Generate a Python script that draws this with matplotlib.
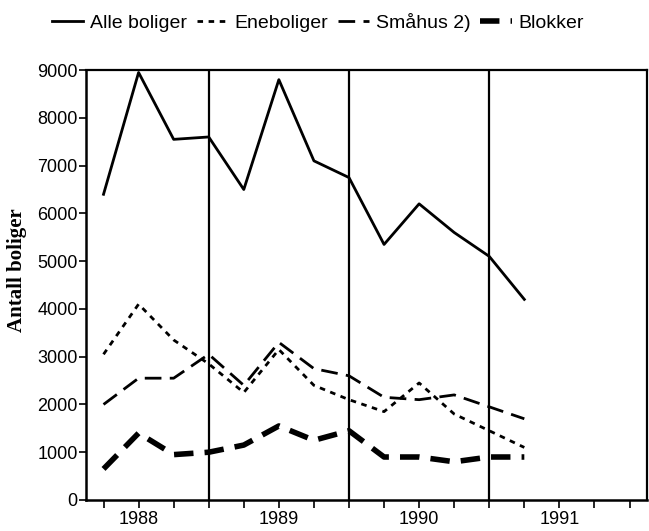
import matplotlib
matplotlib.use("Agg")
import matplotlib.pyplot as plt

# kvartalsdata 1988 - 1991
quarters = list(range(13))
alle = [6400, 8950, 7550, 7600, 6500, 8800, 7100, 6750, 5350, 6200, 5600, 5100, 4200]
enebolig = [3050, 4100, 3350, 2850, 2250, 3150, 2400, 2100, 1850, 2450, 1800, 1450, 1100]
smahus = [2000, 2550, 2550, 3050, 2400, 3300, 2750, 2600, 2150, 2100, 2200, 1950, 1700]
blokker = [650, 1400, 950, 1000, 1150, 1550, 1250, 1450, 900, 900, 800, 900, 900]

year_labels = ["1988", "1989", "1990", "1991"]
year_pos = [1, 5, 9, 13]
year_breaks = [3, 7, 11]

plt.rcParams['font.family'] = ['Liberation Sans', 'DejaVu Sans']

fig = plt.figure(figsize=(6.49, 5.31), dpi=100)
ax = fig.add_axes([0.1325, 0.0584, 0.8645, 0.8096])

ax.plot(quarters, alle, color="black", lw=2.0, label="Alle boliger")
ax.plot(quarters, enebolig, color="black", lw=2.0, linestyle=(0, (2, 2)), label="Eneboliger")
ax.plot(quarters, smahus, color="black", lw=2.0, linestyle=(0, (6, 3)), label="Småhus 2)")
ax.plot(quarters, blokker, color="black", lw=4.0, linestyle=(0, (3.5, 2)), label="Blokker")

for xb in year_breaks:
    ax.axvline(xb, color="black", lw=1.6)

ax.set_xlim(-0.5, 15.5)
ax.set_ylim(0, 9000)
ax.set_yticks(range(0, 9001, 1000))
ax.set_xticks(range(16), minor=True)
ax.set_xticks(year_pos)
ax.set_xticklabels(year_labels)
ax.tick_params(axis="x", which="both", length=6, width=1.2, direction="out", labelsize=13, pad=2)
ax.tick_params(axis="y", length=5, width=1.2, direction="out", labelsize=13, pad=1)

for side in ["left", "bottom"]:
    ax.spines[side].set_linewidth(1.8)
for side in ["top", "right"]:
    ax.spines[side].set_linewidth(1.6)

ax.set_ylabel("Antall boliger", fontsize=15, family="Liberation Serif", fontweight="bold")
ax.yaxis.set_label_coords(-0.105, 0.535)

fig.legend(loc="center", bbox_to_anchor=(0.49, 0.958), ncol=4, frameon=False,
           fontsize=14, handlelength=1.6, handletextpad=0.35, columnspacing=0.5)

fig.savefig("out.png", dpi=100)
